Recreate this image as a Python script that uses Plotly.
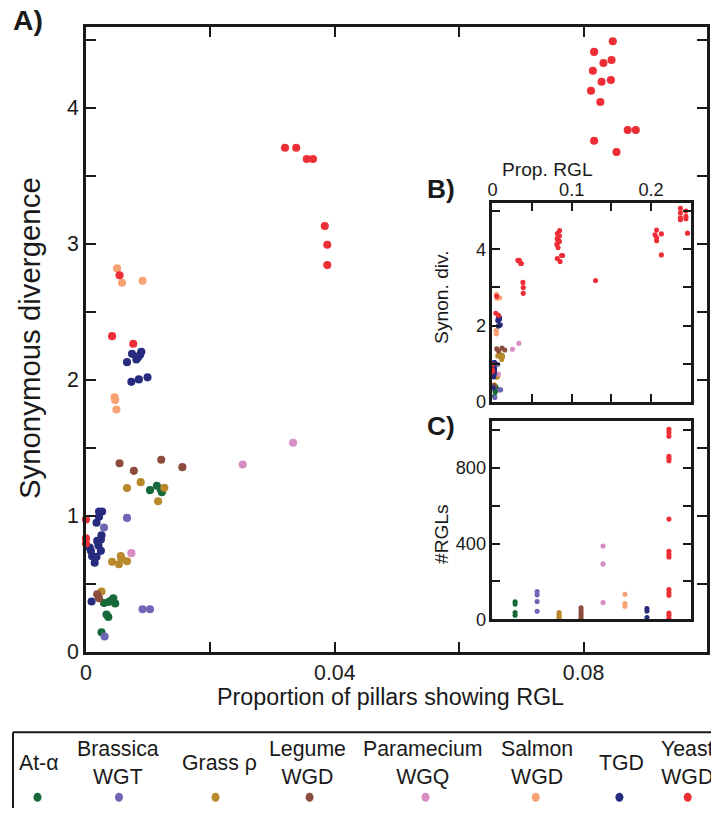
import plotly.graph_objects as go

W, H = 711, 820

# ---------------- data ----------------
series_names = ["At-α", "Brassica<br>WGT", "Grass ρ", "Legume<br>WGD",
                "Paramecium<br>WGQ", "Salmon<br>WGD", "TGD", "Yeast<br>WGD"]
series_colors = ["#17693a", "#6f66b5", "#b88a2c", "#8c4c3e",
                 "#d88cc4", "#f8a273", "#262b7e", "#ee2e36"]

# proportion of pillars showing RGL (x) and synonymous divergence (y)
at_alpha_prop = [0.0103, 0.0114, 0.0122, 0.0120, 0.0029, 0.0037, 0.0044, 0.0047, 0.0040, 0.0033, 0.0036, 0.0025]
at_alpha_ks = [1.189, 1.221, 1.174, 1.195, 0.360, 0.368, 0.395, 0.356, 0.375, 0.275, 0.257, 0.145]

brassica_prop = [0.0066, 0.0029, 0.0091, 0.0103, 0.0030]
brassica_ks = [0.985, 0.915, 0.314, 0.314, 0.113]

grass_prop = [0.0066, 0.0088, 0.0116, 0.0126, 0.0042, 0.0053, 0.0056, 0.0057, 0.0066, 0.0025]
grass_ks = [1.204, 1.248, 1.108, 1.206, 0.662, 0.645, 0.705, 0.688, 0.667, 0.444]

legume_prop = [0.0054, 0.0077, 0.0121, 0.0155, 0.0018, 0.0021]
legume_ks = [1.387, 1.331, 1.412, 1.358, 0.424, 0.395]

paramecium_prop = [0.0073, 0.0252, 0.0333]
paramecium_ks = [0.726, 1.378, 1.537]

salmon_prop = [0.0050, 0.0058, 0.0091, 0.0046, 0.0047, 0.0049]
salmon_ks = [2.819, 2.713, 2.728, 1.871, 1.851, 1.782]

tgd_prop = [0.0074, 0.0089, 0.0081, 0.0084, 0.0066, 0.0087, 0.0073, 0.0085, 0.0099,
            0.0021, 0.0026, 0.0021, 0.0017, 0.0025, 0.0024, 0.0018, 0.0020, 0.0006,
            0.0024, 0.0008, 0.0010, 0.0017, 0.0014, 0.0009]
tgd_ks = [2.191, 2.206, 2.150, 2.165, 2.130, 2.184, 1.985, 2.003, 2.018,
          1.032, 1.032, 0.993, 0.949, 0.858, 0.826, 0.816, 0.782, 0.768,
          0.743, 0.741, 0.704, 0.699, 0.655, 0.371]

yeast_prop = [0.0320, 0.0338, 0.0355, 0.0365, 0.0384, 0.0388, 0.0388, 0.0054, 0.0042, 0.0076,
              0.0, 0.0, 0.0,
              0.0847, 0.0817, 0.0845, 0.0832, 0.0815, 0.0829, 0.0844, 0.0812, 0.0827,
              0.0871, 0.0884, 0.0817, 0.0853,
              0.130, 0.207, 0.205, 0.207, 0.207, 0.213, 0.213,
              0.237, 0.237, 0.237, 0.237, 0.244, 0.244, 0.244, 0.246]
yeast_ks = [3.706, 3.706, 3.623, 3.623, 3.130, 2.993, 2.843, 2.768, 2.321, 2.265,
            0.974, 0.835, 0.797,
            4.488, 4.410, 4.351, 4.329, 4.272, 4.191, 4.204, 4.125, 4.042,
            3.836, 3.836, 3.757, 3.674,
            3.18, 4.50, 4.38, 4.30, 4.22, 4.40, 3.85,
            5.07, 4.95, 4.82, 4.77, 5.00, 4.86, 4.80, 4.42]

# number of RGLs per event (inset C)
at_alpha_rgl = [92, 80, 35, 21]
brassica_rgl = [147, 129, 94, 42]
grass_rgl = [35, 25, 15, 5]
legume_rgl = [60, 45, 32, 18, 5]
paramecium_rgl = [388, 293, 88]
salmon_rgl = [132, 83, 69]
tgd_rgl = [57, 44, 9]
yeast_rgl = [1005, 989, 969, 863, 851, 839, 530, 360, 344, 330, 157, 141, 127, 33, 21, 4]

props = [at_alpha_prop, brassica_prop, grass_prop, legume_prop,
         paramecium_prop, salmon_prop, tgd_prop, yeast_prop]
kss = [at_alpha_ks, brassica_ks, grass_ks, legume_ks,
       paramecium_ks, salmon_ks, tgd_ks, yeast_ks]
rgls = [at_alpha_rgl, brassica_rgl, grass_rgl, legume_rgl,
        paramecium_rgl, salmon_rgl, tgd_rgl, yeast_rgl]

# ---------------- layout helpers ----------------
# the photographed page comes out slightly shrunk; these compensate
SX, SY = 0.992, 0.985
OX = 5.0

def px_x(p):
    return (p - OX) / (W * SX)

def px_y(p):
    return 1 - p / (H * SY)

def fs(v):
    return round(v / 0.988, 1)

FONT = "Liberation Sans, Arial, sans-serif"
INK = "#1a1a1a"

MAIN_X = [0, 0.0998]
MAIN_Y = [0, 4.593]

fig = go.Figure()

# main panel A (only points inside its window)
for name, col, xs, ys in zip(series_names, series_colors, props, kss):
    pts = [(a, b) for a, b in zip(xs, ys) if a <= MAIN_X[1] and b <= MAIN_Y[1]]
    fig.add_trace(go.Scatter(
        x=[p[0] for p in pts], y=[p[1] for p in pts], mode="markers",
        marker=dict(size=fs(8), color=col, line=dict(width=0)),
        name=name, xaxis="x", yaxis="y", cliponaxis=False, showlegend=False))

# inset B (all points)
for name, col, xs, ys in zip(series_names, series_colors, props, kss):
    fig.add_trace(go.Scatter(
        x=xs, y=ys, mode="markers",
        marker=dict(size=fs(5), color=col, line=dict(width=0)),
        name=name, xaxis="x2", yaxis="y2", cliponaxis=False, showlegend=False))

# inset C (#RGLs by event)
for i, (name, col, vals) in enumerate(zip(series_names, series_colors, rgls)):
    fig.add_trace(go.Scatter(
        x=[i] * len(vals), y=vals, mode="markers",
        marker=dict(size=fs(5), color=col, line=dict(width=0)),
        name=name, xaxis="x3", yaxis="y3", cliponaxis=False, showlegend=False))

axis_common = dict(showline=True, linecolor=INK, linewidth=2.5, mirror="ticks",
                   ticks="inside", tickcolor=INK, tickwidth=2, showgrid=False,
                   zeroline=False, tickfont=dict(family=FONT, size=fs(21), color=INK))
small_tick = {**axis_common, "tickfont": dict(family=FONT, size=fs(18), color=INK)}

fig.update_layout(
    autosize=True, margin=dict(l=0, r=0, t=0, b=0, pad=0),
    paper_bgcolor="white", plot_bgcolor="white", showlegend=False,
    font=dict(family=FONT, color=INK),
    xaxis=dict(domain=[px_x(85), px_x(706)], range=MAIN_X, anchor="y",
               tickvals=[0, 0.02, 0.04, 0.06, 0.08],
               ticktext=["0", "", "0.04", "", "0.08"], ticklen=10, **axis_common),
    yaxis=dict(domain=[px_y(651.7), px_y(27)], range=MAIN_Y, anchor="x",
               tickvals=[0, 0.5, 1, 1.5, 2, 2.5, 3, 3.5, 4, 4.5],
               ticktext=["0", "", "1", "", "2", "", "3", "", "4", ""], ticklen=10,
               **axis_common),
    xaxis2=dict(domain=[px_x(491.7), px_x(690)], range=[0, 0.25], anchor="y2",
                side="top", tickvals=[0, 0.05, 0.1, 0.15, 0.2],
                ticktext=["0", "", "0.1", "", "0.2"], ticklen=8,
                ticklabelstandoff=-3, **small_tick),
    yaxis2=dict(domain=[px_y(401.7), px_y(203.3)], range=[0, 5.2], anchor="x2",
                tickvals=[0, 1, 2, 3, 4, 5], ticktext=["0", "", "2", "", "4", ""],
                ticklen=8, **small_tick),
    xaxis3=dict(domain=[px_x(491.7), px_x(690)], range=[-1.03, 7.99], anchor="y3",
                showline=True, linecolor=INK, linewidth=2.5, mirror=True,
                ticks="", showticklabels=False, showgrid=False, zeroline=False),
    yaxis3=dict(domain=[px_y(619), px_y(420.7)], range=[0, 1050], anchor="x3",
                tickvals=[0, 200, 400, 600, 800, 1000],
                ticktext=["0", "", "400", "", "800", ""], ticklen=8, **small_tick),
)

ann = []
def text(s, x, y, size, bold=False, angle=0):
    ann.append(dict(text=f"<b>{s}</b>" if bold else s, x=px_x(x), y=px_y(y),
                    xref="paper", yref="paper", showarrow=False, textangle=angle,
                    xanchor="center", yanchor="middle",
                    font=dict(family=FONT, size=fs(size), color=INK)))

text("A)", 27, 20, 28, bold=True)
text("B)", 440, 189, 26, bold=True)
text("C)", 440, 426, 26, bold=True)
text("Proportion of pillars showing RGL", 390, 697, 23)
text("Synonymous divergence", 28, 338, 29, angle=-90)
text("Prop. RGL", 547, 169, 19)
text("Synon. div.", 440, 297, 19, angle=-90)
text("#RGLs", 440, 534, 19, angle=-90)

# custom legend (frame: left and top edges; right/bottom fall outside the picture)
legend_text_x = [38, 117, 219, 307, 422, 536, 621, 687]
legend_dot_x = [36.5, 118, 214.6, 308.7, 424.7, 535, 618.7, 687]
shapes = [
    dict(type="line", xref="paper", yref="paper", x0=px_x(12), x1=1,
         y0=px_y(732), y1=px_y(732), line=dict(color=INK, width=2)),
    dict(type="line", xref="paper", yref="paper", x0=px_x(12), x1=px_x(12),
         y0=px_y(732), y1=0, line=dict(color=INK, width=2)),
]
for name, col, tx, dx in zip(series_names, series_colors, legend_text_x, legend_dot_x):
    text(name, tx, 763, 21)
    shapes.append(dict(type="circle", xref="paper", yref="paper",
                       x0=px_x(dx - 4), x1=px_x(dx + 4),
                       y0=px_y(797 + 4.5), y1=px_y(797 - 4.5),
                       fillcolor=col, line=dict(width=0)))

fig.update_layout(annotations=ann, shapes=shapes)
fig.write_html(
    "out.html",
    config={"displayModeBar": False, "responsive": True},
    default_width="100vw", default_height="100vh",
    post_script=(
        "document.documentElement.style.margin='0';"
        "document.documentElement.style.overflow='hidden';"
        "document.body.style.margin='0';document.body.style.overflow='hidden';"
        "var gd=document.getElementById('{plot_id}');"
        "gd.style.width='100vw';gd.style.height='100vh';"
        "Plotly.Plots.resize(gd);"
    ),
)
